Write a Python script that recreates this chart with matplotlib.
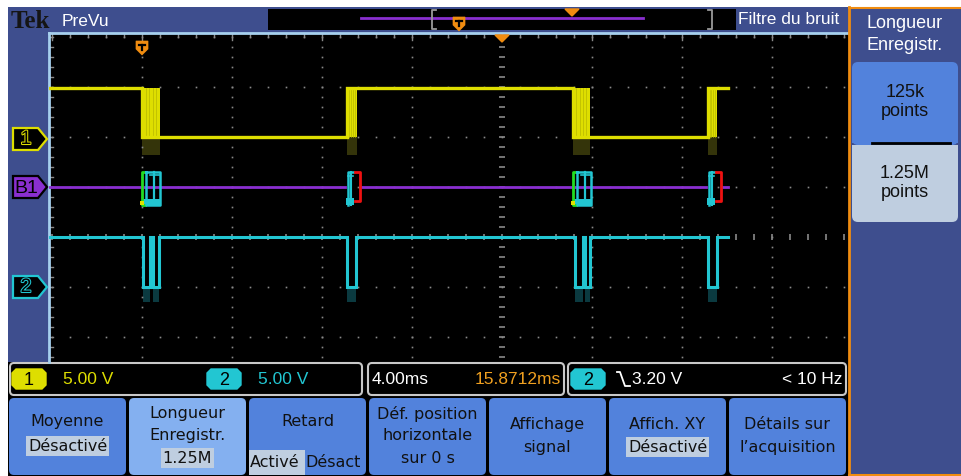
import matplotlib
matplotlib.use("Agg")
import matplotlib.pyplot as plt
from matplotlib.patches import Rectangle, FancyBboxPatch, Polygon
import matplotlib.patheffects as pe
import numpy as np

# ---------------- data ----------------
time_per_div_ms = 4.0
ch1_volts_per_div = 5.0
ch2_volts_per_div = 5.0
ch1_offset_div = 1.96
ch2_offset_div = -1.0
bus_offset_div = 1.0
ch1_high_v = 5.1
ch1_low_v = 0.2
ch2_high_v = 5.0
ch2_low_v = 0.05
record_start_ms = -20.13
record_end_ms = 10.05
ch1_initial_state = 1
ch1_edge_start_ms = [-16.0, -6.9, 3.15, 9.15]
ch1_edge_end_ms = [-15.2, -6.45, 3.9, 9.55]
ch2_pulse_start_ms = [-15.95, -15.5, -6.9, 3.25, 3.7, 9.15]
ch2_pulse_end_ms = [-15.65, -15.25, -6.5, 3.6, 3.92, 9.55]
bus_start_frames_ms = [-16.0, 3.15]
bus_end_frames_ms = [-6.9, 9.15]

readout_ch1 = "5.00 V"
readout_ch2 = "5.00 V"
readout_timebase = "4.00ms"
readout_position = "15.8712ms"
readout_trigger = "3.20 V"
readout_freq = "< 10 Hz"
button_labels = [
    ["Moyenne", "Désactivé"],
    ["Longueur", "Enregistr.", "1.25M"],
    ["Retard", "ActivéDésact"],
    ["Déf. position", "horizontale", "sur 0 s"],
    ["Affichage", "signal"],
    ["Affich. XY", "Désactivé"],
    ["Détails sur", "l’acquisition"],
]
side_title = ["Longueur", "Enregistr."]
side_options = ["125k\npoints", "1.25M\npoints"]

# ---------------- colours ----------------
BLUE_DARK = "#3e4e8e"
BTN_BLUE = "#5282dc"
BTN_LIGHT = "#84b0f0"
HILITE = "#bfcee0"
YELLOW = "#dede00"
CYAN = "#22c6d2"
PURPLE = "#8a2fd0"
ORANGE = "#f08c10"
GRID = "#8a8a8a"
EDGE_BLUE = "#a6d0ee"

NARROW = ["Liberation Sans", "DejaVu Sans"]
SANS = ["DejaVu Sans"]

W, H = 961, 477
fig = plt.figure(figsize=(W / 100, H / 100), dpi=100)
fig.patch.set_facecolor("white")

bg = fig.add_axes([0, 0, 1, 1])
bg.set_xlim(0, W)
bg.set_ylim(H, 0)
bg.axis("off")

ov = fig.add_axes([0, 0, 1, 1], zorder=5)
ov.set_xlim(0, W)
ov.set_ylim(H, 0)
ov.axis("off")
ov.patch.set_alpha(0)

def rect(ax, x0, y0, x1, y1, **kw):
    ax.add_patch(Rectangle((x0, y0), x1 - x0, y1 - y0, **kw))

def rrect(ax, x0, y0, x1, y1, r=4, **kw):
    ax.add_patch(FancyBboxPatch((x0 + r, y0 + r), x1 - x0 - 2 * r, y1 - y0 - 2 * r,
                                boxstyle=f"round,pad={r}", **kw))

rect(bg, 8, 8, 850, 477, color="black", lw=0)
rect(bg, 8, 8, 850, 34, color=BLUE_DARK, lw=0)
rect(bg, 8, 8, 49, 363, color=BLUE_DARK, lw=0)

GX0, GX1, GY0, GY1 = 49, 848, 34, 363
CX, CY = 502, 238
PX_PER_DIV_X, PX_PER_DIV_Y = 90.0, 50.0
ms_per_px = time_per_div_ms / PX_PER_DIV_X

wave = fig.add_axes([GX0 / W, (H - GY1) / H, (GX1 - GX0) / W, (GY1 - GY0) / H], zorder=2)
wave.set_xlim((GX0 - CX) * ms_per_px, (GX1 - CX) * ms_per_px)
wave.set_ylim((CY - GY1) / PX_PER_DIV_Y, (CY - GY0) / PX_PER_DIV_Y)
wave.axis("off")
wave.patch.set_alpha(0)

# ---------------- graticule ----------------
sub_x = time_per_div_ms / 5
for k in range(-4, 4):
    t = k * time_per_div_ms
    if k == 0:
        continue
    ys = np.arange(-2.4, 4.0, 0.2)
    wave.plot(np.full_like(ys, t), ys, ls="none", marker="s", ms=1.2, color=GRID, mew=0)
for j in range(-2, 5):
    if j == 0:
        continue
    xs = np.arange(-20.0, 16.0, sub_x)
    wave.plot(xs, np.full_like(xs, j), ls="none", marker="s", ms=1.2, color=GRID, mew=0)
ys = np.arange(-2.4, 4.1, 0.2)
wave.plot(np.zeros_like(ys), ys, ls="none", marker="_", ms=5, color=GRID, mew=1.2)
xs = np.arange(-20.0, 16.0, sub_x)
wave.plot(xs, np.zeros_like(xs), ls="none", marker="|", ms=5, color=GRID, mew=1.2)
for x in np.arange(CX - 25 * 18, GX1, 18):
    if x > GX0 + 2:
        big = abs(((x - CX) / 90) - round((x - CX) / 90)) < 0.01
        bg.plot([x, x], [GY0, GY0 + (7 if big else 4)], color=GRID, lw=1)
for y in np.arange(CY - 20 * 10, GY1, 10):
    if y > GY0 + 2:
        bg.plot([GX0, GX0 + 4], [y, y], color=GRID, lw=1)
bg.plot([GX0, GX1], [GY0, GY0], color=EDGE_BLUE, lw=2)
bg.plot([GX0, GX0], [GY0, GY1], color=EDGE_BLUE, lw=2)

# ---------------- channel 1 ----------------
def ch1_div(v):
    return ch1_offset_div + v / ch1_volts_per_div

def ch2_div(v):
    return ch2_offset_div + v / ch2_volts_per_div

hi1, lo1 = ch1_div(ch1_high_v), ch1_div(ch1_low_v)
state = ch1_initial_state
xs, ys = [record_start_ms], [hi1 if state else lo1]
for ts, te in zip(ch1_edge_start_ms, ch1_edge_end_ms):
    xs += [ts, ts]
    ys += [hi1 if state else lo1, lo1 if state else hi1]
    state = 1 - state
    wave.fill_between([ts, te], lo1 - 0.36, lo1, color="#34340a", lw=0)
    wave.fill_between([ts, te], lo1, hi1, color=YELLOW, lw=0)
    for tt in np.linspace(ts, te, 6)[1:-1]:
        wave.plot([tt, tt], [lo1, hi1], color="#b8b800", lw=0.5)
xs.append(record_end_ms)
ys.append(hi1 if state else lo1)
wave.plot(xs, ys, color=YELLOW, lw=2.4, solid_joinstyle="miter")

# ---------------- channel 2 ----------------
hi2, lo2 = ch2_div(ch2_high_v), ch2_div(ch2_low_v)
xs, ys = [record_start_ms], [hi2]
for ts, te in zip(ch2_pulse_start_ms, ch2_pulse_end_ms):
    xs += [ts, ts, te, te]
    ys += [hi2, lo2, lo2, hi2]
    wave.fill_between([ts, te], lo2 - 0.3, lo2, color="#0b3a40", lw=0)
xs.append(record_end_ms)
ys.append(hi2)
wave.plot(xs, ys, color=CYAN, lw=2.2, solid_joinstyle="miter")

# ---------------- bus B1 ----------------
b = bus_offset_div
bt, bb = b + 0.30, b - 0.36
seg_x = [record_start_ms]
for ts in bus_end_frames_ms:
    seg_x += [ts - 0.08, ts + 0.68]
seg_x.append(record_end_ms)
for i in range(0, len(seg_x), 2):
    wave.plot([seg_x[i], seg_x[i + 1]], [b, b], color=PURPLE, lw=2.0)
for ts in bus_start_frames_ms:
    g = 0.2
    wave.plot([ts + 0.12, ts, ts, ts + 0.12], [bt, bt, bb, bb], color="#22dd22", lw=2)
    wave.plot([ts + g, ts + 0.8, ts + 0.8, ts + g, ts + g], [bt, bt, bb, bb, bt], color=CYAN, lw=1.8)
    wave.fill_between([ts + 0.05, ts + 0.8], bb, bb + 0.12, color=CYAN, lw=0)
    wave.plot([ts + 0.55, ts + 0.55], [bt, bb + 0.1], color=CYAN, lw=1.6)
    wave.plot([ts + 0.35, ts + 0.75], [bt - 0.06, bt - 0.06], color=CYAN, lw=1.2)
    wave.plot([ts + 0.02], [bb + 0.04], ls="none", marker="s", ms=3, color="#e0e000", mew=0)
for ts in bus_end_frames_ms:
    wave.plot([ts + 0.28, ts + 0.05, ts + 0.05], [bt, bt, bb], color=CYAN, lw=1.8)
    wave.plot([ts + 0.05, ts + 0.28], [bt - 0.07, bt - 0.07], color=CYAN, lw=1.2)
    wave.plot([ts + 0.18, ts + 0.18], [bt, bb], color=CYAN, lw=1.5)
    wave.fill_between([ts - 0.02, ts + 0.33], bb, bb + 0.14, color=CYAN, lw=0)
    wave.plot([ts + 0.38, ts + 0.6, ts + 0.6, ts + 0.38], [bt, bt, bb + 0.08, bb + 0.08], color="#ee1111", lw=2)

# ---------------- left markers ----------------
def marker(y, fill, edge, label, tcolor, stroke=None):
    pts = [(13, y - 11), (38, y - 11), (47, y), (38, y + 11), (13, y + 11)]
    bg.add_patch(Polygon(pts, closed=True, facecolor=fill, edgecolor=edge, lw=1.6, zorder=3))
    t = bg.text(26, y + 0.5, label, ha="center", va="center", fontsize=14, color=tcolor,
                family=NARROW, zorder=4)
    if stroke:
        t.set_path_effects([pe.withStroke(linewidth=1.5, foreground=stroke)])

y_ch1 = CY - ch1_offset_div * PX_PER_DIV_Y
y_bus = CY - bus_offset_div * PX_PER_DIV_Y
y_ch2 = CY - ch2_offset_div * PX_PER_DIV_Y
marker(y_ch1, "black", YELLOW, "1", "black", YELLOW)
marker(y_bus, PURPLE, "black", "B1", "black")
marker(y_ch2, "black", CYAN, "2", "black", CYAN)

# ---------------- header ----------------
bg.text(11, 21, "Tek", fontsize=18, fontweight="bold", family=["Liberation Serif", "DejaVu Serif"],
        color="#151515", va="center", ha="left")
bg.text(62, 21, "PreVu", fontsize=12.5, family=NARROW, color="white", va="center", ha="left")
rect(bg, 268, 10, 736, 31, color="black", lw=0)
bg.plot([361, 643], [19, 19], color=PURPLE, lw=2)
bg.plot([436, 432, 432, 436], [11, 11, 30, 30], color="#999999", lw=1.3)
bg.plot([708, 712, 712, 708], [11, 11, 30, 30], color="#999999", lw=1.3)
bg.text(738, 20, "Filtre du bruit", fontsize=12.5, family=NARROW, color="white", va="center", ha="left")

def tmark(ax, x, y):
    pts = [(x - 6, y - 7), (x + 6, y - 7), (x + 6, y + 1), (x, y + 7), (x - 6, y + 1)]
    ax.add_patch(Polygon(pts, closed=True, facecolor=ORANGE, edgecolor=ORANGE, lw=0.5, zorder=6))
    ax.plot([x - 3, x + 3], [y - 3.5, y - 3.5], color="black", lw=1.6, zorder=7)
    ax.plot([x, x], [y - 3.5, y + 2], color="black", lw=1.6, zorder=7)

tmark(ov, 459, 25)
tmark(ov, 142, 49)
ov.add_patch(Polygon([(565, 10), (579, 10), (572, 17)], closed=True, color=ORANGE, zorder=6))
ov.add_patch(Polygon([(495, 36), (509, 36), (502, 43)], closed=True, color=ORANGE, zorder=6))

# ---------------- readout bar ----------------
for x0, x1 in [(10, 362), (368, 564), (568, 846)]:
    rrect(bg, x0, 364, x1, 396, r=4, facecolor="black", edgecolor="#c8c8c8", lw=1.5)

def badge(x0, color, label):
    pts = [(x0 + 4, 370), (x0 + 30, 370), (x0 + 34, 374), (x0 + 34, 386), (x0 + 30, 390),
           (x0 + 4, 390), (x0, 386), (x0, 374)]
    bg.add_patch(Polygon(pts, closed=True, color=color, zorder=3))
    bg.text(x0 + 17, 381, label, ha="center", va="center", fontsize=13, family=NARROW,
            color="black", zorder=4)

FS_R = 12.5
badge(12, YELLOW, "1")
bg.text(63, 380, readout_ch1, fontsize=FS_R, family=NARROW, color=YELLOW, va="center")
badge(207, CYAN, "2")
bg.text(258, 380, readout_ch2, fontsize=FS_R, family=NARROW, color=CYAN, va="center")
bg.text(372, 380, readout_timebase, fontsize=FS_R, family=NARROW, color="white", va="center")
bg.text(561, 380, readout_position, fontsize=FS_R, family=NARROW, color="#f0a020", va="center", ha="right")
badge(571, CYAN, "2")
bg.plot([617, 620, 625, 630], [373, 373, 387, 387], color="white", lw=1.3)
bg.text(632, 380, readout_trigger, fontsize=FS_R, family=NARROW, color="white", va="center")
bg.text(843, 380, readout_freq, fontsize=FS_R, family=NARROW, color="white", va="center", ha="right")

# ---------------- bottom buttons ----------------
line_y = {2: [422, 447], 3: [414, 436, 459]}
for i, lines in enumerate(button_labels):
    x0 = 9 + 120 * i
    x1 = x0 + 117
    face = BTN_LIGHT if i == 1 else BTN_BLUE
    rrect(bg, x0, 399, x1, 476, r=5, facecolor=face, edgecolor="none")
    xc = (x0 + x1) / 2
    if i in (4, 5, 6):
        ys_ = [425, 448]
    else:
        ys_ = line_y[len(lines)]
    if i == 2:
        rect(bg, 249, 451, 305, 476, color=HILITE, lw=0)
        bg.text(xc, 422, lines[0], ha="center", va="center", fontsize=11.5, family=SANS, color="#111111")
        bg.text(250, 463, "Activé", ha="left", va="center", fontsize=11.5, family=SANS, color="#111111")
        bg.text(305, 463, "Désact", ha="left", va="center", fontsize=11.5, family=SANS, color="#111111")
        continue
    for k, (txt, yy) in enumerate(zip(lines, ys_)):
        t = bg.text(xc, yy, txt, ha="center", va="center", fontsize=11.5, family=SANS, color="#111111")
        if (i in (0, 5) and k == 1) or (i == 1 and k == 2):
            t.set_bbox(dict(facecolor=HILITE, edgecolor="none", pad=1.5))

# ---------------- side menu ----------------
rect(bg, 849, 8, 961, 477, facecolor=BLUE_DARK, edgecolor="none")
bg.plot([849, 849], [8, 476], color=ORANGE, lw=2)
bg.plot([849, 961], [8.5, 8.5], color=ORANGE, lw=1.5)
bg.plot([849, 961], [476, 476], color=ORANGE, lw=1.5)
bg.text(905, 23, side_title[0], ha="center", va="center", fontsize=13, family=NARROW, color="white")
bg.text(905, 46, side_title[1], ha="center", va="center", fontsize=13, family=NARROW, color="white")
rrect(bg, 852, 63, 958, 146, r=6, facecolor=BTN_BLUE, edgecolor="none")
rect(bg, 852, 120, 958, 144, color=BTN_BLUE, lw=0)
bg.plot([872, 950], [144, 144], color="black", lw=2)
rrect(bg, 852, 146, 958, 223, r=6, facecolor=HILITE, edgecolor="none")
rect(bg, 852, 146, 958, 160, color=HILITE, lw=0)
bg.text(905, 102, side_options[0], ha="center", va="center", fontsize=13, family=NARROW,
        color="#111111", linespacing=1.2)
bg.text(905, 183, side_options[1], ha="center", va="center", fontsize=13, family=NARROW,
        color="#111111", linespacing=1.2)

fig.savefig("out.png", dpi=100, facecolor="white")
